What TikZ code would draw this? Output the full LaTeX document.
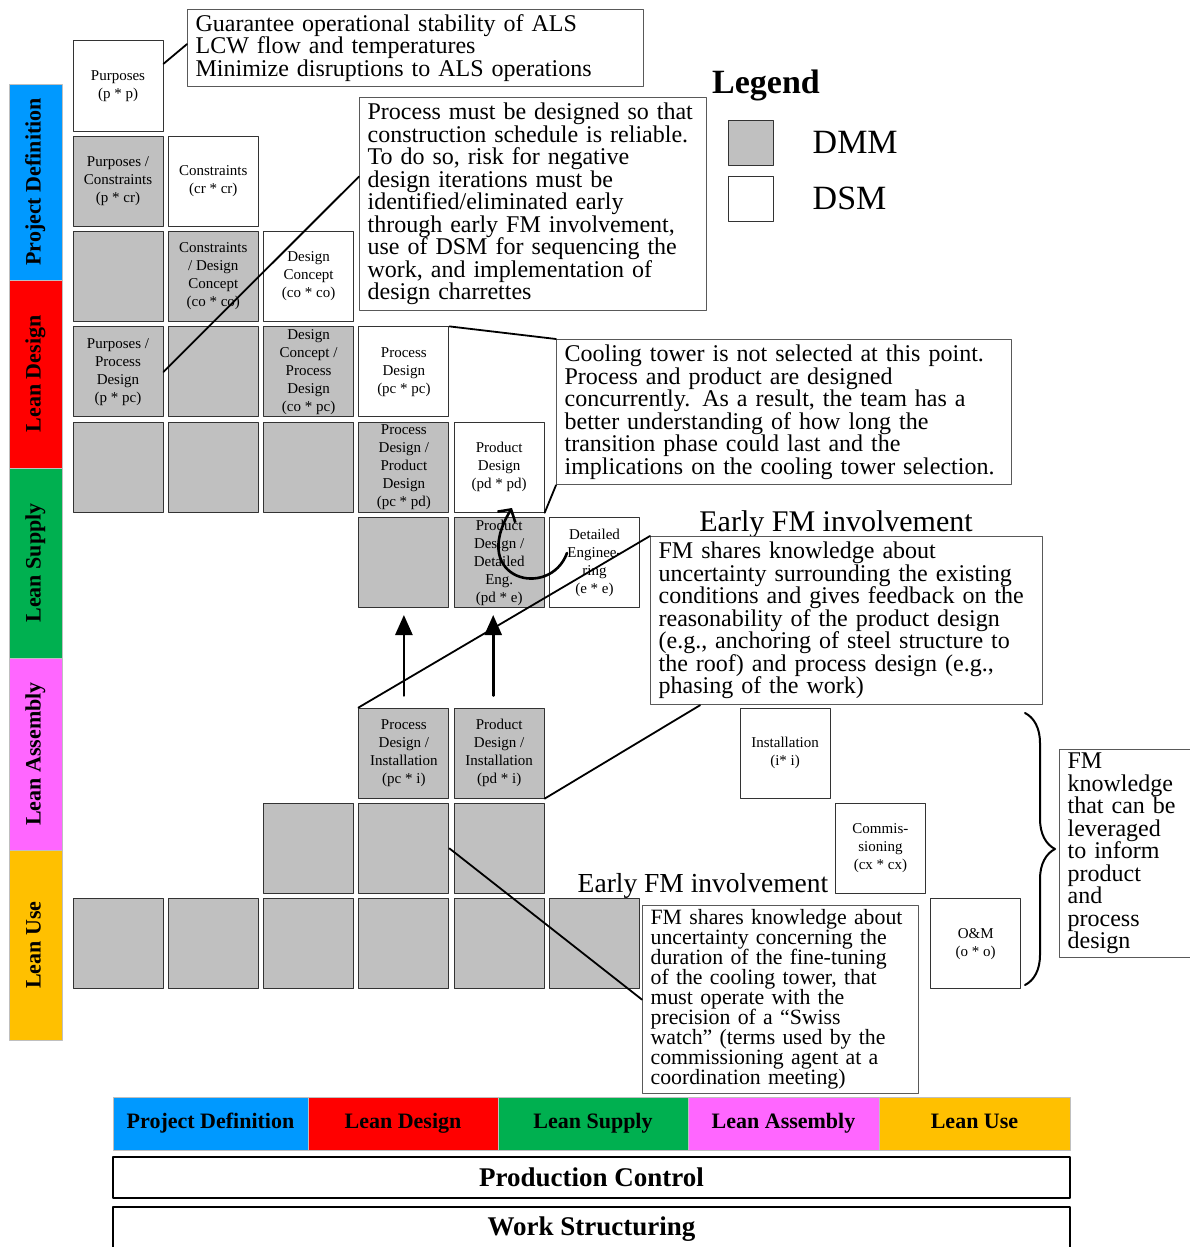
\documentclass[tikz,border=0pt]{standalone}
\usepackage{fontspec}
\setmainfont{Liberation Serif}
\usetikzlibrary{positioning,arrows.meta,decorations.pathreplacing}
\definecolor{pdblue}{HTML}{0099FF}
\definecolor{ldred}{HTML}{FF0000}
\definecolor{lsgreen}{HTML}{00B050}
\definecolor{lapink}{HTML}{FF66FF}
\definecolor{luyellow}{HTML}{FFC000}
\definecolor{dmmgray}{HTML}{C0C0C0}
% tight leading for the note boxes
\protected\def\notefont{\fontsize{24}{22.5}\selectfont\lineskiplimit=-20pt\relax}
\protected\def\smallnotefont{\fontsize{21.8}{20}\selectfont\lineskiplimit=-20pt\relax}
\begin{document}
\begin{tikzpicture}[x=1pt, y=-1pt, line join=round, line cap=round,
  cell/.style={draw=black!80, line width=1pt, minimum size=90pt, inner sep=0pt, align=center, font=\fontsize{15}{18}\selectfont},
  dmm/.style={cell, fill=dmmgray},
  dsm/.style={cell, fill=white},
  note/.style={draw=black!65, line width=1.2pt, fill=white, anchor=north west, inner xsep=8pt, inner ysep=0pt, align=left, font=\notefont},
  lead/.style={line width=1.8pt},
  phase/.style={draw=black!25, line width=0.6pt, inner sep=0pt, text height=15pt, text depth=5pt, font=\fontsize{22}{26}\selectfont\bfseries},
  ctrl/.style={draw=black, line width=2.6pt, minimum width=957pt, minimum height=41pt, inner sep=0pt, font=\fontsize{27}{32}\selectfont\bfseries},
  fmhead/.style={anchor=base, inner sep=0pt, font=\fontsize{30}{34}\selectfont},
  uparrow/.style={line width=2.6pt, -{Triangle[length=20pt,width=17pt]}, shorten <=12pt, shorten >=7pt}]
\useasboundingbox (0,0) rectangle (1189,1247);
\def\cellx(#1){118+95.3*(#1)}
\def\celly(#1){86+95.3*(#1)}

% phases down the left and along the bottom
\foreach \nm/\clr/\ya/\yb/\txt in {lpd/pdblue/84/280/Project Definition, lld/ldred/280/468/Lean Design, lls/lsgreen/468/658/Lean Supply, lla/lapink/658/850/Lean Assembly, llu/luyellow/850/1040/Lean Use}
  \node[phase, fill=\clr, rotate=90, minimum width={\yb-\ya}, minimum height=53pt] (\nm) at (35.5,{(\ya+\yb)/2}) {\txt};
\foreach \nm/\clr/\xa/\xb/\txt in {bpd/pdblue/113/308/Project Definition, bld/ldred/308/498/Lean Design, bls/lsgreen/498/688/Lean Supply, bla/lapink/688/879/Lean Assembly, blu/luyellow/879/1070/Lean Use}
  \node[phase, fill=\clr, minimum width={\xb-\xa}, minimum height=53pt] (\nm) at ({(\xa+\xb)/2},1123.5) {\txt};
\node[ctrl] (pc) at (591.5,1177.5) {Production Control};
\node[ctrl, minimum height=44pt] (ws) at (591.5,1229) {Work Structuring};

% DSM on the diagonal, DMM below it
\node[dsm] (pp) at ({\cellx(0)},{\celly(0)}) {Purposes\\(p * p)};
\node[dmm] (pcr) at ({\cellx(0)},{\celly(1)}) {Purposes /\\Constraints\\(p * cr)};
\node[dsm] (crcr) at ({\cellx(1)},{\celly(1)}) {Constraints\\(cr * cr)};
\node[dmm] (crco) at ({\cellx(1)},{\celly(2)}) {Constraints\\/ Design\\Concept\\(co * co)};
\node[dsm] (coco) at ({\cellx(2)},{\celly(2)}) {Design\\Concept\\(co * co)};
\node[dmm] (ppc) at ({\cellx(0)},{\celly(3)}) {Purposes /\\Process\\Design\\(p * pc)};
\node[dmm] (copc) at ({\cellx(2)},{\celly(3)}) {Design\\Concept /\\Process\\Design\\(co * pc)};
\node[dsm] (pcpc) at ({\cellx(3)},{\celly(3)}) {Process\\Design\\(pc * pc)};
\node[dmm] (pcpd) at ({\cellx(3)},{\celly(4)}) {Process\\Design /\\Product\\Design\\(pc * pd)};
\node[dsm] (pdpd) at ({\cellx(4)},{\celly(4)}) {Product\\Design\\(pd * pd)};
\node[dmm] (pde) at ({\cellx(4)},{\celly(5)}) {Product\\Design /\\Detailed\\Eng.\\(pd * e)};
\node[dsm] (ee) at ({\cellx(5)},{\celly(5)}) {Detailed\\Enginee-\\ring\\(e * e)};
\node[dmm] (pci) at ({\cellx(3)},{\celly(7)}) {Process\\Design /\\Installation\\(pc * i)};
\node[dmm] (pdi) at ({\cellx(4)},{\celly(7)}) {Product\\Design /\\Installation\\(pd * i)};
\node[dsm] (ii) at ({\cellx(7)},{\celly(7)}) {Installation\\(i* i)};
\node[dsm] (cxcx) at ({\cellx(8)},{\celly(8)}) {Commis-\\sioning\\(cx * cx)};
\node[dsm] (oo) at ({\cellx(9)},{\celly(9)}) {O\&M\\(o * o)};
\foreach \cc/\rr in {0/2,1/3,0/4,1/4,2/4,3/5,2/8,3/8,4/8,0/9,1/9,2/9,3/9,4/9,5/9}
  \node[dmm] (g\cc\rr) at ({\cellx(\cc)},{\celly(\rr)}) {};

% legend
\node[anchor=base, inner sep=0pt, font=\fontsize{34}{40}\selectfont\bfseries] (lgtitle) at (766,93) {Legend};
\node[dmm, minimum size=45pt] (lgdmm) at (750.5,142.5) {};
\node[dsm, minimum size=45pt] (lgdsm) at (750.5,198.5) {};
\node[right=39pt of lgdmm, inner sep=0pt, font=\fontsize{34}{40}\selectfont] (lgdmmtxt) {DMM};
\node[right=39pt of lgdsm, inner sep=0pt, font=\fontsize{34}{40}\selectfont] (lgdsmtxt) {DSM};

% notes
\node[note, text width=440pt, minimum height=77pt] (gbox) at (187,9) {Guarantee operational stability of ALS\\LCW flow and temperatures\\Minimize disruptions to ALS operations};
\node[note, text width=331pt, minimum height=213pt] (procbox) at (359,97) {Process must be designed so that\\construction schedule is reliable.\\To do so, risk for negative\\design iterations must be\\identified/eliminated early\\through early FM involvement,\\use of DSM for sequencing the\\work, and implementation of\\design charrettes};
\node[note, text width=439pt, minimum height=145pt] (coolbox) at (556,339) {Cooling tower is not selected at this point.\\Process and product are designed\\concurrently. As a result, the team has a\\better understanding of how long the\\transition phase could last and the\\implications on the cooling tower selection.};
\node[fmhead] (fmtitle) at (836,531) {Early FM involvement};
\node[note, text width=376pt, minimum height=168pt] (fmbox) at (650,536) {FM shares knowledge about\\uncertainty surrounding the existing\\conditions and gives feedback on the\\reasonability of the product design\\(e.g., anchoring of steel structure to\\the roof) and process design (e.g.,\\phasing of the work)};
\node[fmhead, font=\fontsize{27.5}{32}\selectfont] (swtitle) at (703,892) {Early FM involvement};
\node[note, text width=260pt, minimum height=188pt, font=\smallnotefont] (swbox) at (642,905) {FM shares knowledge about\\uncertainty concerning the\\duration of the fine-tuning\\of the cooling tower, that\\must operate with the\\precision of a “Swiss\\watch” (terms used by the\\commissioning agent at a\\coordination meeting)};
\node[note, text width=134pt, minimum height=208pt] (kbox) at (1059,749) {FM\\knowledge\\that can be\\leveraged\\to inform\\product\\and\\process\\design};

\coordinate (btop) at (1025,713);
\coordinate (bbot) at (1025,985);
\draw[line width=2pt, decorate, decoration={brace, amplitude=30pt}] (btop) -- (bbot);

% leaders
\draw[lead] (pp.26) -- (gbox.179);
\draw[lead] (ppc.east) -- (procbox.171);
\draw[lead] (pcpc.north east) -- (coolbox.north west);
\draw[lead] (pdpd.south east) -- (coolbox.south west);
\draw[lead] (pci.north west) -- (fmbox.north west);
\draw[lead] (pdi.south east) -- (fmbox.210);
\draw[lead] (g38.east) -- (swbox.west);

\draw[uparrow] (pci.north) -- (g35.south);
\draw[uparrow] ([xshift=-6pt]pdi.north) -- ([xshift=-6pt]pde.south);
\coordinate (cvstart) at (567,553);
\coordinate (cvend) at (512,508);
\draw[line width=2.6pt, -{Straight Barb[length=9pt,width=21pt]}] (cvstart) .. controls (550,600) and (468,580) .. (cvend);
\end{tikzpicture}
\end{document}
